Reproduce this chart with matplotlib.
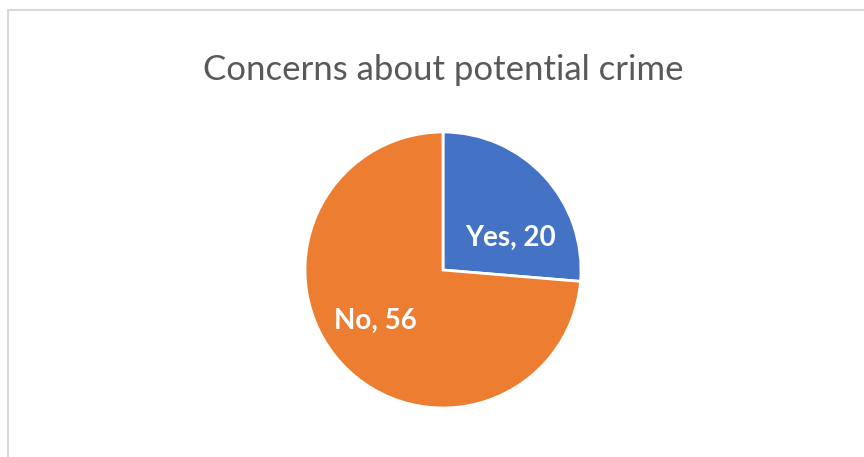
import matplotlib.pyplot as plt
from matplotlib.patches import Rectangle

# data
labels = ['Yes', 'No']
values = [20, 56]
colors = ['#4472C4', '#ED7D31']
title = 'Concerns about potential crime'

# label placement (axes data units, pie radius = 1)
label_xy = [(0.49, 0.23), (-0.49, -0.37)]

fig = plt.figure(figsize=(8.64, 4.57), dpi=100)
W, H = 864, 457

# chart border (extends past bottom/right like the screenshot)
fig.patches.append(Rectangle((8 / W, -0.1), 1.2, (H - 10) / H + 0.1,
                             transform=fig.transFigure, fill=False,
                             edgecolor='#D9D9D9', linewidth=1.5))

cx, cy, r = 443, H - 270, 138
ax = fig.add_axes([(cx - r) / W, (cy - r) / H, 2 * r / W, 2 * r / H])
ax.pie(values, colors=colors, startangle=90, counterclock=False,
       wedgeprops=dict(edgecolor='white', linewidth=2))
ax.set_xlim(-1.0, 1.0)
ax.set_ylim(-1.0, 1.0)
ax.set_aspect('equal')
ax.axis('off')

for lab, v, (x, y) in zip(labels, values, label_xy):
    ax.text(x, y, f'{lab}, {v}', ha='center', va='center', color='white',
            fontsize=20, fontweight='bold', family='Lato')

fig.text(cx / W, 1 - 70 / H, title, ha='center', va='center',
         fontsize=25, color='#595959', family='Lato')

plt.savefig('out.png', dpi=100)
